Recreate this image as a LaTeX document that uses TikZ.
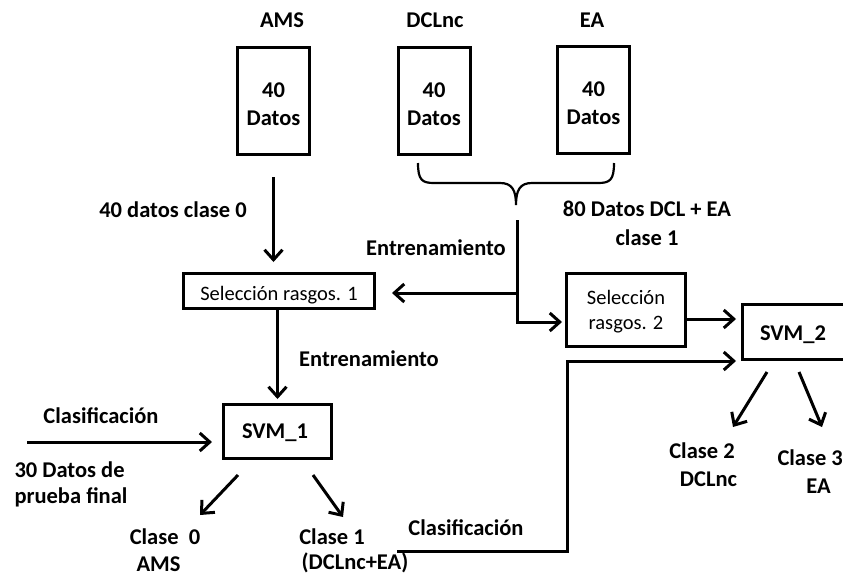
\documentclass[tikz,border=0pt]{standalone}
\usepackage{fontspec}
\setmainfont{Carlito}
\usetikzlibrary{arrows.meta}
\begin{document}
\begin{tikzpicture}[x=1pt,y=-1pt,
  line width=3pt,
  lbl/.style={font=\bfseries\fontsize{22.5}{27}\selectfont, inner sep=0pt, anchor=base},
  lbll/.style={lbl, anchor=base west},
  txt/.style={font=\fontsize{20.5}{25}\selectfont, inner sep=0pt, anchor=base},
  blk/.style={draw, inner sep=0pt, minimum width=#1},
  arr/.style={-{Straight Barb[length=10pt,width=18pt]}},
]
\useasboundingbox (0,0) rectangle (843,576);
\clip (0,0) rectangle (843,576);

% data sources
\node[blk=72pt, minimum height=107pt] (ams) at (273.5,101) {};
\node[blk=72pt, minimum height=107pt] (dcl) at (434,101) {};
\node[blk=72pt, minimum height=107pt] (ea)  at (593.5,100) {};
\node[lbl] (tams) at (282,27) {AMS};
\node[lbl] (tdcl) at (435,27) {DCLnc};
\node[lbl] (tea)  at (592,27) {EA};
\foreach \b in {ams,dcl,ea}{
  \node[lbl] at ([yshift=4pt]\b.center) {40};
  \node[lbl] at ([yshift=-24pt]\b.center) {Datos};
}

% processing blocks
\node[blk=191pt, minimum height=35pt] (sel1) at (279,291) {};
\node[txt] at (279,300) {Selección rasgos. 1};
\node[blk=119pt, minimum height=73pt] (sel2) at (626,310) {};
\node[txt] at (626,304) {Selección};
\node[txt] at (626,329) {rasgos. 2};
\node[blk=108pt, minimum height=54pt] (svm1) at (277.5,431.5) {};
\node[lbl] at (275,438) {SVM\_1};
\node[blk=108pt, minimum height=55pt] (svm2) at (796.5,332) {};
\node[lbl] at (793,340) {SVM\_2};

% brace joining the two class-1 sources
\draw[line width=2.2pt] (418,163) .. controls (418,180) and (422,183) .. (434,183)
  -- (500,183) .. controls (512,183) and (516,190) .. (516,205)
  .. controls (516,190) and (520,183) .. (532,183)
  -- (598,183) .. controls (610,183) and (614,180) .. (614,163);
\coordinate (jn) at (517,220);

% labels
\node[lbl] at (173,217) {40 datos clase 0};
\node[lbl] at (647,216) {80 Datos DCL + EA};
\node[lbl] at (647,245) {clase 1};
\node[lbl] at (436,255) {Entrenamiento};
\node[lbl] at (369,366) {Entrenamiento};
\node[lbl] at (101,423) {Clasificación};
\node[lbll] at (13,477) {30 Datos de};
\node[lbll] at (13,503) {prueba final};
\node[lbl] (c0) at (165,544) {Clase\ \ 0};
\node[lbl] at (158.5,571) {AMS};
\node[lbl] (c1) at (332,544) {Clase 1};
\node[lbl] at (355,569.5) {(DCLnc+EA)};
\node[lbl] at (466,535) {Clasificación};
\node[lbl] (c2) at (702,458) {Clase 2};
\node[lbl] at (708.5,486) {DCLnc};
\node[lbll] (c3) at (776,465) {Clase 3};
\node[lbl] at (818.5,493) {EA};

% connectors
\coordinate (s1e) at ([yshift=-2pt]sel1.east);
\coordinate (s2w) at ([yshift=-12pt]sel2.west);
\coordinate (s2e) at ([yshift=-9pt]sel2.east);
\draw[arr, shorten <=21pt, shorten >=10pt] (ams.south) -- (ams.south |- sel1.north);
\draw[arr, shorten >=16pt] (jn |- s1e) -- (s1e);
\draw[arr, shorten >=3pt] (jn) |- (s2w);
\draw[arr, shorten >=4pt] (sel1.south -| svm1.north) -- (svm1.north);
\coordinate (in1) at (27,442);
\draw[arr, shorten >=10pt] (in1) -- (in1 -| svm1.west);
\draw[arr] ([shift={(-39.5,43.5)}]svm1.center) -- ++(-38,40);
\draw[arr] ([shift={(35.5,43.5)}]svm1.center) -- ++(30,42);
\draw[arr, shorten >=5pt] (s2e) -- (s2e -| svm2.west);
\coordinate (k1) at (397,551);
\draw[arr, shorten >=5pt] (k1) -- (567,551) |- (svm2.south west);
\draw[arr] ([shift={(-29.5,40)}]svm2.center) -- ++(-34,55);
\draw[arr] ([shift={(2.5,40)}]svm2.center) -- ++(23,55);
\end{tikzpicture}
\end{document}
